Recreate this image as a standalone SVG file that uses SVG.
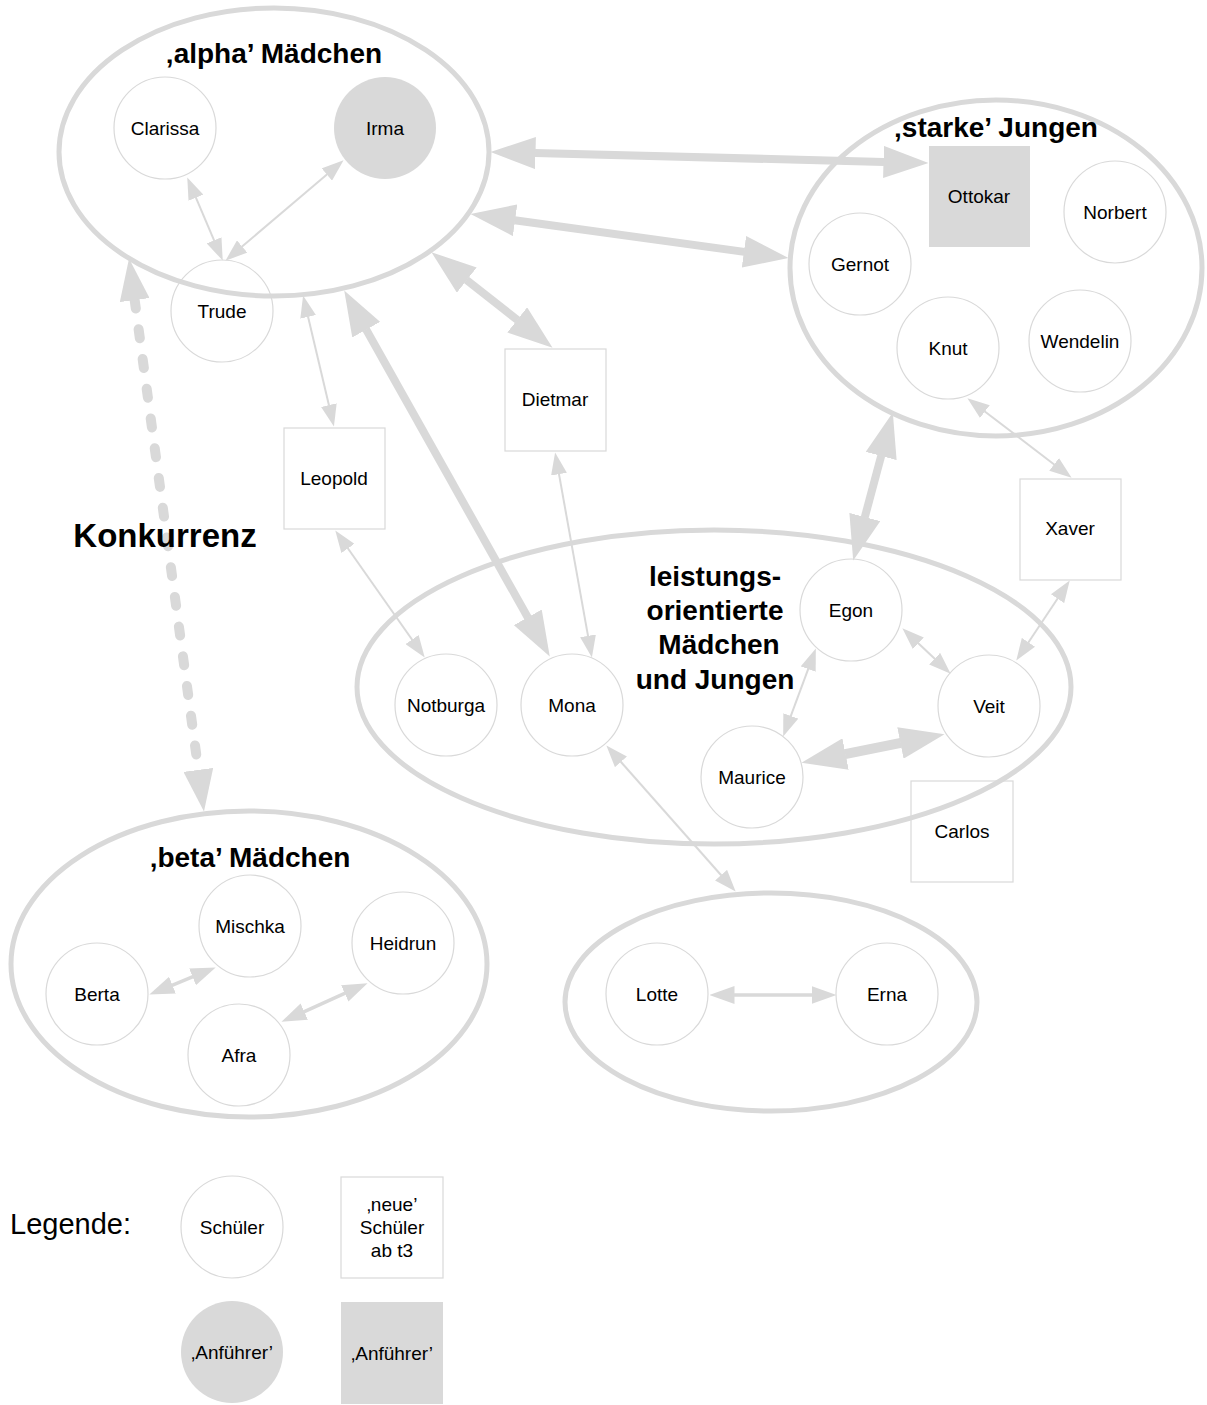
<svg xmlns="http://www.w3.org/2000/svg" width="1207" height="1405" viewBox="0 0 1207 1405">
<style>
  .grp{fill:none;stroke:#d9d9d9;stroke-width:5}
  .n{fill:none;stroke:#d9d9d9;stroke-width:1.2}
  .r{fill:none;stroke:#d9d9d9;stroke-width:1.2}
  .lead{fill:#d9d9d9;stroke:none}
  .t{font-family:"Liberation Sans",Arial,sans-serif;font-size:19px;fill:#000;text-anchor:middle}
  .h{font-family:"Liberation Sans",Arial,sans-serif;font-size:28px;font-weight:bold;fill:#000;text-anchor:middle}
  .k{font-family:"Liberation Sans",Arial,sans-serif;font-size:33px;font-weight:bold;fill:#000;text-anchor:middle}
  .leg{font-family:"Liberation Sans",Arial,sans-serif;font-size:29px;fill:#000}
  .c{fill:none;stroke:#d9d9d9}
  .c2{stroke-width:2;marker-start:url(#aS);marker-end:url(#aS)}
  .c3{stroke-width:3.5;marker-start:url(#aM);marker-end:url(#aM)}
  .c8{stroke-width:8;marker-start:url(#aL);marker-end:url(#aL)}
  .c10{stroke-width:10;marker-start:url(#aL);marker-end:url(#aL)}
  .dash{stroke-width:10;stroke-linecap:round;stroke-dasharray:9 21;marker-start:url(#aD);marker-end:url(#aD)}
</style>
<defs>
  <marker id="aS" markerUnits="userSpaceOnUse" viewBox="0 0 22 16" markerWidth="22" markerHeight="16" refX="0.5" refY="8" orient="auto-start-reverse"><path d="M0,0 L22,8 L0,16 Z" fill="#d9d9d9"/></marker>
  <marker id="aM" markerUnits="userSpaceOnUse" viewBox="0 0 25 18" markerWidth="25" markerHeight="18" refX="0.5" refY="9" orient="auto-start-reverse"><path d="M0,0 L25,9 L0,18 Z" fill="#d9d9d9"/></marker>
  <marker id="aL" markerUnits="userSpaceOnUse" viewBox="0 0 45 32" markerWidth="45" markerHeight="32" refX="0.5" refY="16" orient="auto-start-reverse"><path d="M0,0 L45,16 L0,32 Z" fill="#d9d9d9"/></marker>
  <marker id="aD" markerUnits="userSpaceOnUse" viewBox="0 0 42 30" markerWidth="42" markerHeight="30" refX="0.5" refY="15" orient="auto-start-reverse"><path d="M0,0 L42,15 L0,30 Z" fill="#d9d9d9"/></marker>
</defs>
<rect x="0" y="0" width="1207" height="1405" fill="#ffffff"/>

<g id="group-alpha">
  <ellipse class="grp" cx="274" cy="152" rx="215" ry="144"/>
  <text class="h" x="274" y="63">‚alpha’ Mädchen</text>
</g>
<g id="group-starke">
  <ellipse class="grp" cx="996" cy="268" rx="206" ry="168"/>
  <text class="h" x="996" y="137">‚starke’ Jungen</text>
</g>
<g id="group-leistung">
  <ellipse class="grp" cx="714" cy="687" rx="357" ry="157"/>
  <text class="h" x="715" y="586">leistungs-</text>
  <text class="h" x="715" y="620">orientierte</text>
  <text class="h" x="719" y="654">Mädchen</text>
  <text class="h" x="715" y="689">und Jungen</text>
</g>
<g id="group-beta">
  <ellipse class="grp" cx="249" cy="964" rx="238" ry="153"/>
  <text class="h" x="250" y="867">‚beta’ Mädchen</text>
</g>
<g id="group-lotte-erna">
  <ellipse class="grp" cx="771" cy="1002" rx="206" ry="109"/>
</g>

<g id="node-clarissa"><circle class="n" cx="165" cy="128" r="51"/><text class="t" x="165" y="135">Clarissa</text></g>
<g id="node-irma"><circle class="lead" cx="385" cy="128" r="51"/><text class="t" x="385" y="135">Irma</text></g>
<g id="node-trude"><circle class="n" cx="222" cy="311" r="51"/><text class="t" x="222" y="318">Trude</text></g>
<g id="node-ottokar"><rect class="lead" x="929" y="146" width="101" height="101"/><text class="t" x="979" y="203">Ottokar</text></g>
<g id="node-norbert"><circle class="n" cx="1115" cy="212" r="51"/><text class="t" x="1115" y="219">Norbert</text></g>
<g id="node-gernot"><circle class="n" cx="860" cy="264" r="51"/><text class="t" x="860" y="271">Gernot</text></g>
<g id="node-knut"><circle class="n" cx="948" cy="348" r="51"/><text class="t" x="948" y="355">Knut</text></g>
<g id="node-wendelin"><circle class="n" cx="1080" cy="341" r="51"/><text class="t" x="1080" y="348">Wendelin</text></g>
<g id="node-dietmar"><rect class="r" x="505" y="349" width="101" height="102"/><text class="t" x="555" y="406">Dietmar</text></g>
<g id="node-leopold"><rect class="r" x="284" y="428" width="101" height="101"/><text class="t" x="334" y="485">Leopold</text></g>
<g id="node-xaver"><rect class="r" x="1020" y="479" width="101" height="101"/><text class="t" x="1070" y="535">Xaver</text></g>
<g id="node-egon"><circle class="n" cx="851" cy="610" r="51"/><text class="t" x="851" y="617">Egon</text></g>
<g id="node-notburga"><circle class="n" cx="446" cy="705" r="51"/><text class="t" x="446" y="712">Notburga</text></g>
<g id="node-mona"><circle class="n" cx="572" cy="705" r="51"/><text class="t" x="572" y="712">Mona</text></g>
<g id="node-veit"><circle class="n" cx="989" cy="706" r="51"/><text class="t" x="989" y="713">Veit</text></g>
<g id="node-maurice"><circle class="n" cx="752" cy="777" r="51"/><text class="t" x="752" y="784">Maurice</text></g>
<g id="node-carlos"><rect class="r" x="911" y="781" width="102" height="101"/><text class="t" x="962" y="838">Carlos</text></g>
<g id="node-mischka"><circle class="n" cx="250" cy="926" r="51"/><text class="t" x="250" y="933">Mischka</text></g>
<g id="node-heidrun"><circle class="n" cx="403" cy="943" r="51"/><text class="t" x="403" y="950">Heidrun</text></g>
<g id="node-berta"><circle class="n" cx="97" cy="994" r="51"/><text class="t" x="97" y="1001">Berta</text></g>
<g id="node-afra"><circle class="n" cx="239" cy="1055" r="51"/><text class="t" x="239" y="1062">Afra</text></g>
<g id="node-lotte"><circle class="n" cx="657" cy="994" r="51"/><text class="t" x="657" y="1001">Lotte</text></g>
<g id="node-erna"><circle class="n" cx="887" cy="994" r="51"/><text class="t" x="887" y="1001">Erna</text></g>

<g id="connectors">
  <line class="c c2" x1="195.7" y1="197.2" x2="214.3" y2="240.8"/>
  <line class="c c2" x1="327.2" y1="174.2" x2="241.8" y2="246.8"/>
  <line class="c c8" x1="535" y1="153.1" x2="884" y2="161.9"/>
  <line class="c c8" x1="514.6" y1="220.2" x2="744.4" y2="251.9"/>
  <line class="c c8" x1="466.4" y1="279.8" x2="517.6" y2="320.2"/>
  <line class="c c8" x1="366" y1="329.2" x2="528" y2="617.8"/>
  <line class="c c2" x1="308" y1="316.4" x2="329" y2="405.6"/>
  <line class="c c2" x1="347.65" y1="548" x2="412.35" y2="640"/>
  <line class="c c2" x1="558.9" y1="473.65" x2="588.1" y2="636.35"/>
  <line class="c dash" x1="134.6" y1="299.6" x2="198.4" y2="770.4"/>
  <line class="c c8" x1="881.3" y1="455.5" x2="864.7" y2="517.5"/>
  <line class="c c2" x1="984.5" y1="411.3" x2="1054.5" y2="464.7"/>
  <line class="c c2" x1="1057.8" y1="598.3" x2="1028.2" y2="642.7"/>
  <line class="c c2" x1="918" y1="643" x2="935" y2="659"/>
  <line class="c c2" x1="808.35" y1="668.6" x2="790.65" y2="716.4"/>
  <line class="c c10" x1="845.1" y1="754.1" x2="900.9" y2="742.9"/>
  <line class="c c2" x1="620.6" y1="761.5" x2="721.4" y2="875.5"/>
  <line class="c c3" x1="734" y1="995" x2="812" y2="995"/>
  <line class="c c3" x1="172" y1="985.3" x2="193" y2="976.7"/>
  <line class="c c3" x1="303.8" y1="1011.8" x2="345.2" y2="993.2"/>
</g>

<text id="label-konkurrenz" class="k" x="165" y="547">Konkurrenz</text>

<g id="legend">
  <text class="leg" x="10" y="1234">Legende:</text>
  <g id="legend-schueler"><circle class="n" cx="232" cy="1227" r="51"/><text class="t" x="232" y="1234">Schüler</text></g>
  <g id="legend-neue"><rect class="r" x="341" y="1177" width="102" height="101"/>
    <text class="t" x="392" y="1211">‚neue’</text>
    <text class="t" x="392" y="1234">Schüler</text>
    <text class="t" x="392" y="1257">ab t3</text></g>
  <g id="legend-anfuehrer-kreis"><circle class="lead" cx="232" cy="1352" r="51"/><text class="t" x="232" y="1359">‚Anführer’</text></g>
  <g id="legend-anfuehrer-quadrat"><rect class="lead" x="341" y="1302" width="102" height="102"/><text class="t" x="392" y="1360">‚Anführer’</text></g>
</g>
</svg>
